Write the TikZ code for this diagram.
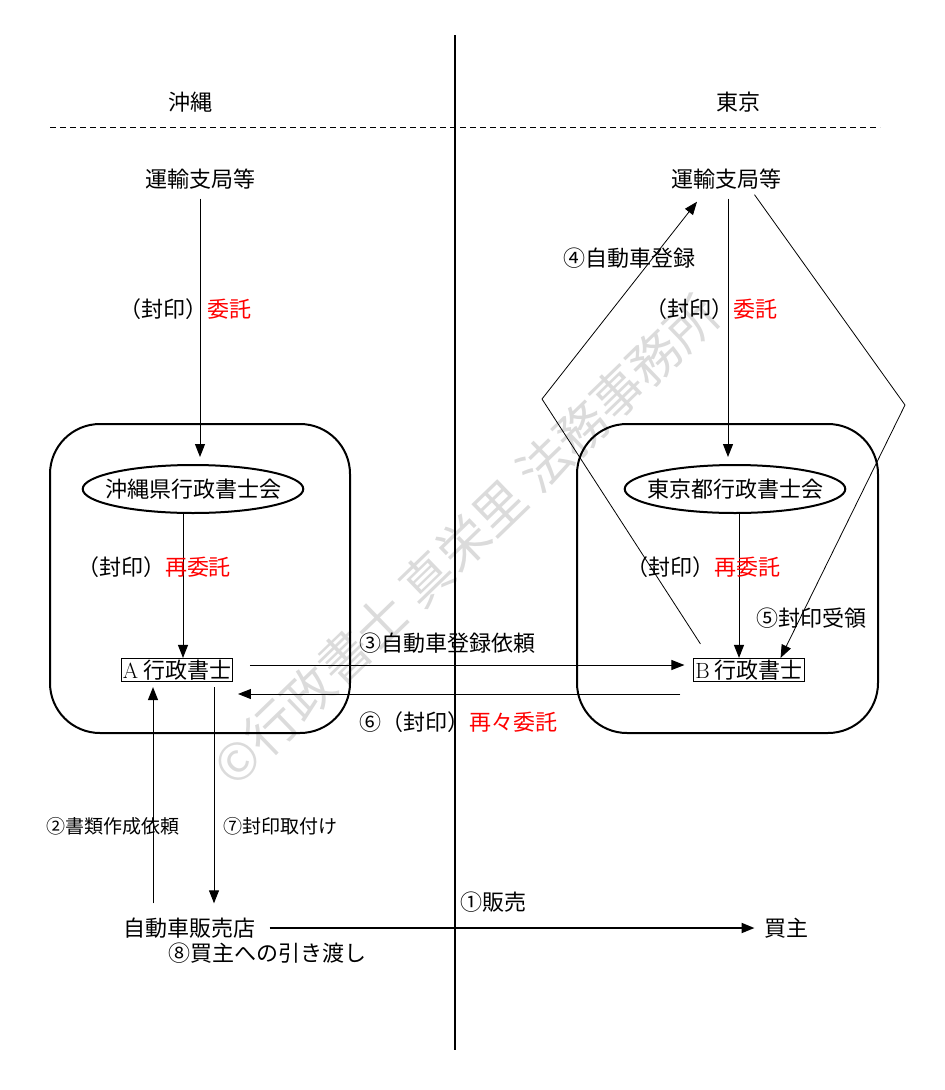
\documentclass[tikz,border=0pt]{standalone}
\usepackage{fontspec}
\newfontfamily\jp{Noto Sans CJK JP}
\usetikzlibrary{arrows.meta,shapes.geometric}

\tikzset{
    lbl/.style={font=\jp\fontsize{22}{26}\selectfont, inner sep=1pt},
    smalllbl/.style={font=\jp\fontsize{19}{22}\selectfont, inner sep=1pt},
    kai/.style={lbl, draw, ellipse, line width=2pt, minimum height=48pt, inner xsep=-10pt, inner ysep=0pt},
    shi/.style={lbl, draw, line width=0.8pt, inner sep=1.5pt},
    area/.style={line width=2pt, rounded corners=50pt},
}

\begin{document}
\begin{tikzpicture}[x=1pt, y=-1pt, line width=1pt, >={Triangle[length=13pt,width=10pt]}]

    \useasboundingbox (0,0) rectangle (945,1090);

    \node[rotate=44, text=gray!28, font=\jp\fontsize{51}{51}\selectfont] at (466,540) {©行政書士 真栄里 法務事務所};

    \draw[line width=2pt] (455,35) -- (455,1050);
    \draw[dashed, dash pattern=on 6pt off 4pt] (50,127) -- (880,127);

    \node[lbl] (okinawa) at (190,102) {沖縄};
    \node[lbl] (tokyo) at (738,102) {東京};

    \draw[area] (50,424) rectangle (350,733);
    \draw[area] (577,424) rectangle (878,733);

    \node[lbl] (unyuL) at (200,179) {運輸支局等};
    \node[lbl] (unyuR) at (726,179) {運輸支局等};

    \node[kai] (kaiL) at (193,489) {沖縄県行政書士会};
    \node[kai] (kaiR) at (735,489) {東京都行政書士会};

    \node[shi] (gyoA) at (177,670) {{\rmfamily A} 行政書士};
    \node[shi] (gyoB) at (749,670) {{\rmfamily B} 行政書士};

    \node[lbl] (hanbai) at (189,928) {自動車販売店};
    \node[lbl] (kaite) at (786,928) {買主};

    \coordinate (k4) at (542,399);
    \coordinate (k5) at (905,405);

    % Okinawa side
    \draw[->, shorten <=8pt, shorten >=7pt] (unyuL.south) -- (unyuL.south |- kaiL.north);
    \node[lbl] at (185,309) {（封印）\textcolor{red}{委託}};

    \draw[->] ([xshift=6]gyoA.north |- kaiL.south) -- ([xshift=6]gyoA.north);
    \node[lbl] at (154,567) {（封印）\textcolor{red}{再委託}};

    % Tokyo side
    \draw[->, shorten <=8pt, shorten >=7pt] ([xshift=2]unyuR.south) -- ([xshift=2]unyuR.south |- kaiR.north);
    \node[lbl] at (711,309) {（封印）\textcolor{red}{委託}};

    \draw[->] ([xshift=-10]gyoB.north |- kaiR.south) -- ([xshift=-10]gyoB.north);
    \node[lbl] at (703,567) {（封印）\textcolor{red}{再委託}};

    \draw[->, line width=0.8pt] ([shift={(7,-14)}]gyoB.north west) -- (k4) -- ([shift={(-29,11)}]unyuR.south);
    \node[lbl] at (629,258) {④自動車登録};

    \draw[->, line width=0.8pt] ([shift={(-28,4)}]unyuR.south east) -- (k5) -- ([xshift=-24]gyoB.north east);
    \node[lbl] at (811,618) {⑤封印受領};

    % between the two
    \draw[->, shorten <=17pt, shorten >=9pt] ([yshift=5]gyoA.east) -- ([yshift=5]gyoB.west);
    \node[lbl] at (447,643) {③自動車登録依頼};

    \draw[->, shorten <=13pt, shorten >=5pt] ([yshift=-24]gyoB.west) -- ([yshift=-24]gyoA.east);
    \node[lbl] at (458,722) {⑥（封印）\textcolor{red}{再々委託}};

    % dealer
    \draw[->, shorten <=13pt, shorten >=5pt] ([xshift=-36]hanbai.north) -- ([xshift=-24]gyoA.south);
    \node[smalllbl] at (113,826) {②書類作成依頼};

    \draw[->, shorten <=5pt, shorten >=13pt] ([xshift=37]gyoA.south) -- ([xshift=25]hanbai.north);
    \node[smalllbl] at (280,826) {⑦封印取付け};

    \draw[->, line width=2pt, shorten <=13pt, shorten >=8pt] (hanbai.east) -- (kaite.west);
    \node[lbl] at (493,902) {①販売};
    \node[lbl] at (267,953) {⑧買主への引き渡し};

\end{tikzpicture}
\end{document}
